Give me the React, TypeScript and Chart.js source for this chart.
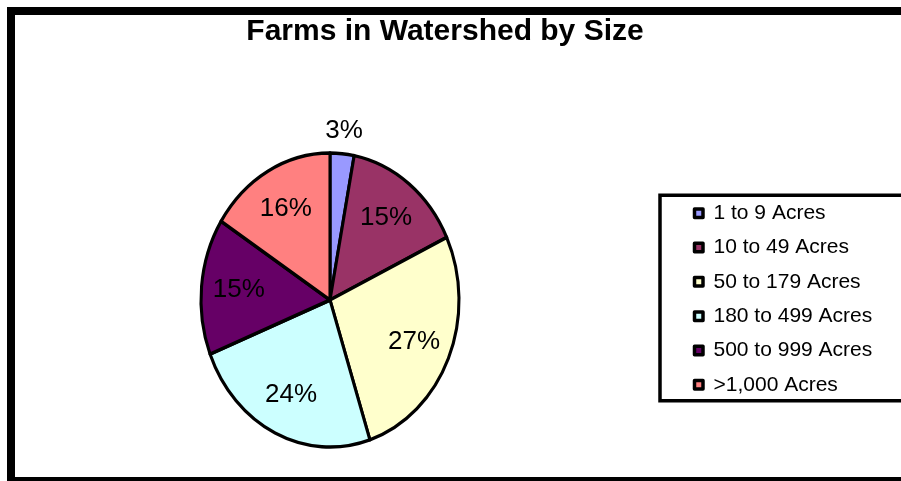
import React, { useEffect, useRef } from "react";
import { Chart, registerables } from "chart.js";

Chart.register(...registerables);

// ---------- data ----------
const TITLE = "Farms in Watershed by Size";
const categories = [
  "1 to 9 Acres",
  "10 to 49 Acres",
  "50 to 179 Acres",
  "180 to 499 Acres",
  "500 to 999 Acres",
  ">1,000 Acres",
];
const sharePercent = [3, 15, 27, 24, 15, 16];

// ---------- styles / layout ----------
const sliceColors = ["#9999FF", "#993366", "#FFFFCC", "#CCFFFF", "#660066", "#FF8080"];
const W = 901;
const H = 481;
const FONT = "'Liberation Sans', Arial, Helvetica, sans-serif";
const BORDER_W = 3.5;
const PIE_CX = 330;
const PIE_CY = 300;
const PIE_RY = 147; // vertical radius
const PIE_RX = 129; // horizontal radius (pie is drawn slightly squashed)
const LEGEND_ITEM_X = 694.5;
const LEGEND_CY = 299;
const LEGEND_FONT_SIZE = 21;
const LABEL_FONT_SIZE = 26;

const framePlugin = {
  id: "outerFrame",
  beforeDraw(chart: any) {
    const ctx = chart.ctx;
    ctx.save();
    ctx.fillStyle = "#ffffff";
    ctx.fillRect(0, 0, chart.width, chart.height);
    ctx.fillStyle = "#000000";
    ctx.fillRect(7, 7, chart.width, 8);
    ctx.fillRect(7, 7, 8, chart.height);
    ctx.fillRect(7, 477, chart.width, 4);
    ctx.restore();
  },
};

const placementPlugin = {
  id: "placement",
  afterLayout(chart: any) {
    const side = 2 * PIE_RY + BORDER_W;
    chart.chartArea = {
      left: PIE_CX - side / 2,
      top: PIE_CY - side / 2,
      right: PIE_CX + side / 2,
      bottom: PIE_CY + side / 2,
      width: side,
      height: side,
    };
    const lg = chart.legend;
    if (lg) {
      const pad = lg.options.labels.padding;
      const w = lg.width;
      lg.left = LEGEND_ITEM_X - pad;
      lg.right = lg.left + w;
      const h = 300;
      lg.top = LEGEND_CY - h / 2;
      lg.bottom = LEGEND_CY + h / 2;
      lg.height = h;
    }
  },
};

const ellipsePlugin = {
  id: "ellipse",
  beforeDatasetsDraw(chart: any) {
    const ctx = chart.ctx;
    const arc = chart.getDatasetMeta(0).data[0];
    const cx = arc ? arc.x : PIE_CX;
    ctx.save();
    ctx.translate(cx, 0);
    ctx.scale(PIE_RX / PIE_RY, 1);
    ctx.translate(-cx, 0);
  },
  afterDatasetsDraw(chart: any) {
    chart.ctx.restore();
  },
};

const labelPlugin = {
  id: "sliceLabels",
  afterDraw(chart: any) {
    const ctx = chart.ctx;
    const meta = chart.getDatasetMeta(0);
    const data = chart.data.datasets[0].data as number[];
    const total = data.reduce((a, b) => a + b, 0);
    const sx = PIE_RX / PIE_RY;
    ctx.save();
    ctx.font = `${LABEL_FONT_SIZE}px ${FONT}`;
    ctx.fillStyle = "#000";
    ctx.textAlign = "center";
    ctx.textBaseline = "middle";
    meta.data.forEach((arc: any, i: number) => {
      const { x, y, startAngle, endAngle, outerRadius } = arc.getProps(
        ["x", "y", "startAngle", "endAngle", "outerRadius"],
        true
      );
      const pct = Math.round((data[i] / total) * 100);
      const mid = (startAngle + endAngle) / 2;
      const r = pct < 5 ? outerRadius + 23 : outerRadius * 0.71;
      const lx = x + Math.cos(mid) * r * sx;
      const ly = y + Math.sin(mid) * r;
      ctx.fillText(pct + "%", lx, ly);
    });
    ctx.restore();

    // legend frame
    const lg = chart.legend;
    const hb = lg && lg.legendHitBoxes;
    if (hb && hb.length) {
      const first = hb[0];
      const last = hb[hb.length - 1];
      const left = first.left - 34.5;
      const top = first.top - 7.5;
      const bottom = last.top + last.height + 5.5;
      ctx.save();
      ctx.strokeStyle = "#000";
      ctx.lineWidth = 3.5;
      ctx.beginPath();
      ctx.moveTo(chart.width + 10, top);
      ctx.lineTo(left, top);
      ctx.lineTo(left, bottom);
      ctx.lineTo(chart.width + 10, bottom);
      ctx.stroke();
      ctx.restore();
    }
  },
};

export default function App() {
  const ref = useRef<HTMLCanvasElement>(null);
  useEffect(() => {
    if (!ref.current) return;
    const chart = new Chart(ref.current, {
      type: "pie",
      data: {
        labels: categories,
        datasets: [
          {
            data: sharePercent,
            backgroundColor: sliceColors,
            borderColor: "#000000",
            borderWidth: BORDER_W,
            hoverBorderWidth: BORDER_W,
            borderJoinStyle: "round",
            clip: false,
          } as any,
        ],
      },
      options: {
        responsive: false,
        animation: false,
        events: [],
        layout: { padding: { left: 0, right: 11, top: 0, bottom: 0 } },
        plugins: {
          title: {
            display: true,
            text: TITLE,
            color: "#000",
            font: { family: FONT, size: 30, weight: "bold", lineHeight: 1.2 },
            padding: { top: 14, bottom: 10 },
          },
          legend: {
            position: "right",
            align: "center",
            labels: {
              color: "#000",
              font: { family: FONT, size: LEGEND_FONT_SIZE },
              boxWidth: 8.5,
              boxHeight: 8.5,
              padding: 13.3,
              generateLabels(chart: any) {
                const items = Chart.overrides.pie.plugins.legend.labels.generateLabels(chart);
                return items.map((it: any) => ({ ...it, lineWidth: 3.5, strokeStyle: "#000" }));
              },
            },
          },
          tooltip: { enabled: false },
        },
      } as any,
      plugins: [framePlugin, placementPlugin, ellipsePlugin, labelPlugin],
    });
    return () => chart.destroy();
  }, []);
  return (
    <div style={{ position: "absolute", left: 0, top: 0, width: W, height: H }}>
      <canvas ref={ref} width={W} height={H} style={{ display: "block" }} />
    </div>
  );
}
